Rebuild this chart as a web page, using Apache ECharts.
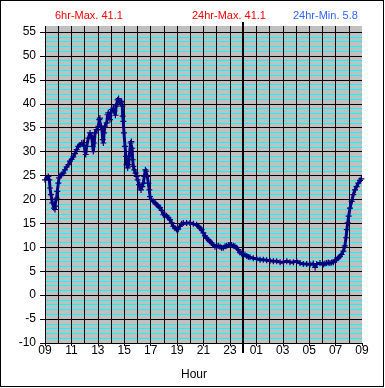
<!DOCTYPE html>
<html>
<head>
<meta charset="utf-8">
<script src="https://cdn.jsdelivr.net/npm/echarts@6/dist/echarts.min.js"></script>
<style>
  html, body { margin: 0; padding: 0; background: #fff; }
  #wrap { position: relative; width: 385px; height: 388px; }
  #chart { position: absolute; left: 0; top: 0; width: 385px; height: 388px; }
  #frame { position: absolute; left: 0; top: 0; width: 384px; height: 387px; box-sizing: border-box; border: 1px solid #000; pointer-events: none; }
</style>
</head>
<body>
<div id="wrap"><div id="chart"></div><div id="frame"></div></div>
<script>
// Hours elapsed since 09:00 (x) and temperature readings (y)
const HOURS = [
  0.00, 0.25, 0.33, 0.38, 0.45, 0.56, 0.68, 0.76, 0.83, 0.88, 0.93, 1.01, 1.06, 1.14, 1.26, 1.39,
  1.51, 1.64, 1.77, 1.89, 2.02, 2.14, 2.27, 2.40, 2.52, 2.65, 2.78, 2.90, 2.98, 3.03, 3.08, 3.15,
  3.28, 3.41, 3.53, 3.61, 3.66, 3.73, 3.79, 3.91, 4.04, 4.11, 4.16, 4.24, 4.31, 4.37, 4.42, 4.47,
  4.54, 4.67, 4.74, 4.79, 4.87, 4.92, 4.97, 5.05, 5.17, 5.25, 5.33, 5.38, 5.43, 5.50, 5.57, 5.62,
  5.68, 5.75, 5.80, 5.85, 5.88, 5.93, 5.98, 6.06, 6.13, 6.18, 6.26, 6.33, 6.38, 6.48, 6.54, 6.59,
  6.64, 6.69, 6.76, 6.86, 6.94, 7.01, 7.12, 7.19, 7.27, 7.37, 7.44, 7.52, 7.60, 7.67, 7.75, 7.82,
  7.90, 7.95, 8.02, 8.20, 8.33, 8.45, 8.58, 8.71, 8.83, 8.96, 9.08, 9.21, 9.34, 9.46, 9.59, 9.71,
  9.84, 9.97, 10.09, 10.22, 10.34, 10.47, 10.72, 10.98, 11.23, 11.48, 11.61, 11.73, 11.86, 11.99, 12.11, 12.24,
  12.37, 12.49, 12.62, 12.74, 12.87, 13.00, 13.12, 13.25, 13.37, 13.50, 13.63, 13.75, 13.88, 14.00, 14.13, 14.26,
  14.38, 14.51, 14.64, 14.76, 14.89, 15.01, 15.14, 15.27, 15.39, 15.52, 15.77, 16.03, 16.28, 16.53, 16.78, 17.04,
  17.29, 17.54, 17.80, 18.05, 18.30, 18.55, 18.81, 19.06, 19.31, 19.56, 19.81, 20.06, 20.31, 20.45, 20.57, 20.82,
  21.07, 21.19, 21.32, 21.45, 21.57, 21.70, 21.83, 21.95, 22.08, 22.21, 22.33, 22.46, 22.59, 22.70, 22.79, 22.85,
  22.92, 22.99, 23.09, 23.22, 23.34, 23.47, 23.59, 23.72, 23.85, 23.95
];
const TEMPS = [
  24.1, 24.8, 24.1, 22.4, 21.0, 19.3, 18.2, 17.9, 18.6, 20.3, 21.7, 23.4, 24.5, 25.0, 25.2, 25.5,
  26.2, 26.8, 27.3, 28.0, 28.4, 28.9, 29.6, 30.4, 31.1, 31.4, 31.8, 31.9, 31.1, 30.0, 29.4, 31.1,
  32.8, 33.9, 33.2, 31.1, 30.0, 31.8, 33.9, 34.6, 35.3, 36.7, 37.0, 35.3, 34.6, 32.5, 31.8, 33.9,
  35.3, 36.0, 37.7, 38.1, 37.4, 36.7, 38.1, 38.8, 39.1, 38.5, 37.6, 39.5, 39.8, 40.8, 41.1, 40.6,
  40.5, 40.2, 40.5, 39.5, 37.4, 36.3, 33.9, 31.1, 29.0, 27.3, 26.6, 27.3, 29.0, 31.8, 32.1, 30.7,
  28.3, 26.9, 26.2, 25.5, 24.8, 24.1, 23.1, 22.4, 22.0, 22.7, 23.4, 24.8, 26.2, 25.9, 24.8, 23.4,
  22.0, 20.6, 20.0, 19.6, 19.3, 18.9, 18.6, 18.3, 17.7, 16.8, 16.8, 16.6, 16.2, 15.8, 15.1, 14.4,
  14.0, 13.7, 13.8, 14.4, 14.9, 15.1, 15.1, 15.1, 14.9, 14.7, 14.4, 14.0, 13.7, 13.0, 12.4, 11.9,
  11.6, 11.2, 10.9, 10.5, 10.1, 10.2, 10.3, 10.1, 9.9, 9.9, 10.2, 10.3, 10.5, 10.5, 10.5, 10.3,
  10.2, 9.9, 9.5, 8.9, 8.7, 8.5, 8.5, 8.2, 8.0, 7.9, 7.7, 7.6, 7.4, 7.4, 7.3, 7.2,
  7.1, 7.1, 6.9, 6.9, 7.1, 6.9, 6.9, 7.1, 6.7, 6.5, 6.5, 6.4, 6.6, 5.8, 6.5, 6.7,
  6.4, 6.6, 6.7, 6.8, 6.7, 6.8, 6.9, 7.3, 7.4, 7.8, 8.1, 8.5, 9.2, 10.3, 12.0, 13.7,
  15.1, 16.5, 18.2, 19.6, 21.0, 22.0, 22.7, 23.4, 24.0, 24.3
];
const HOUR_LABELS = ['09', '11', '13', '15', '17', '19', '21', '23', '01', '03', '05', '07', '09'];
const MIDNIGHT = 15;
const HEADER_TEXTS = ['6hr-Max. 41.1', '24hr-Max. 41.1', '24hr-Min. 5.8'];
const X_NAME = 'Hour';

const FONT = '"Liberation Sans", Arial, sans-serif';
const points = HOURS.map((h, i) => [h, TEMPS[i]]);

const chart = echarts.init(document.getElementById('chart'), null, { renderer: 'canvas' });
chart.setOption({
  animation: false,
  grid: [
    { left: 45, right: 23, top: 26, bottom: 45, show: true, backgroundColor: '#c0c0c0', borderWidth: 0 },
    { left: 45, right: 23, top: 32, bottom: 45 },
    { left: 45, right: 23, top: 22, bottom: 35 }
  ],
  xAxis: [
    {
      gridIndex: 0, type: 'value', min: 0, max: 24, interval: 2, z: 3,
      axisLine: { show: true, lineStyle: { color: '#000', width: 1 } },
      axisTick: { show: true, inside: false, length: 3, lineStyle: { color: '#000' } },
      axisLabel: {
        margin: 2, color: '#000', fontSize: 12, fontFamily: FONT,
        formatter: v => HOUR_LABELS[Math.round(v / 2)] || ''
      },
      splitLine: { show: true, showMinLine: true, showMaxLine: false, lineStyle: { color: '#000', width: 1 } },
      minorTick: { show: false, splitNumber: 2 },
      minorSplitLine: { show: true, lineStyle: { color: '#000', width: 1 } }
    },
    { gridIndex: 1, type: 'value', min: 0, max: 24, show: false },
    { gridIndex: 2, type: 'value', min: 0, max: 24, show: false }
  ],
  yAxis: [
    { gridIndex: 0, type: 'value', min: 0, max: 1, show: false },
    {
      gridIndex: 1, type: 'value', min: -10, max: 55, interval: 5, z: 1,
      axisLine: { show: true, lineStyle: { color: '#000', width: 1 } },
      axisTick: { show: true, inside: false, length: 5, lineStyle: { color: '#000' } },
      axisLabel: { margin: 9, color: '#000', fontSize: 12, fontFamily: FONT },
      splitLine: { show: true, lineStyle: { color: '#000', width: 1 } },
      minorTick: { show: false, splitNumber: 5 },
      minorSplitLine: { show: true, lineStyle: { color: '#00ffff', width: 1 } }
    },
    { gridIndex: 2, type: 'value', min: 0, max: 1, show: false }
  ],
  series: [
    {
      type: 'line', xAxisIndex: 2, yAxisIndex: 2, data: [], z: 8, silent: true,
      markLine: {
        silent: true, symbol: ['none', 'none'], label: { show: false },
        lineStyle: { color: '#000', width: 2, type: 'solid' },
        data: [{ xAxis: MIDNIGHT }]
      }
    },
    {
      type: 'line', xAxisIndex: 1, yAxisIndex: 1, data: points, z: 10,
      symbol: 'path://M2,0h1v2h2v1h-2v2h-1v-2h-2v-1h2z', symbolSize: 6, showAllSymbol: true,
      itemStyle: { color: '#000080' },
      lineStyle: { color: '#000080', width: 3 }
    }
  ],
  graphic: [
    { type: 'text', style: { text: HEADER_TEXTS[0], x: 55, y: 16, verticalAlign: 'middle', fill: '#ff0000', font: '11px ' + FONT } },
    { type: 'text', style: { text: HEADER_TEXTS[1], x: 192, y: 16, verticalAlign: 'middle', fill: '#ff0000', font: '11px ' + FONT } },
    { type: 'text', style: { text: HEADER_TEXTS[2], x: 293, y: 16, verticalAlign: 'middle', fill: '#3366ff', font: '11px ' + FONT } },
    { type: 'text', style: { text: X_NAME, x: 194, y: 375, align: 'center', verticalAlign: 'middle', fill: '#000', font: '12px ' + FONT } }
  ]
});
</script>
</body>
</html>
